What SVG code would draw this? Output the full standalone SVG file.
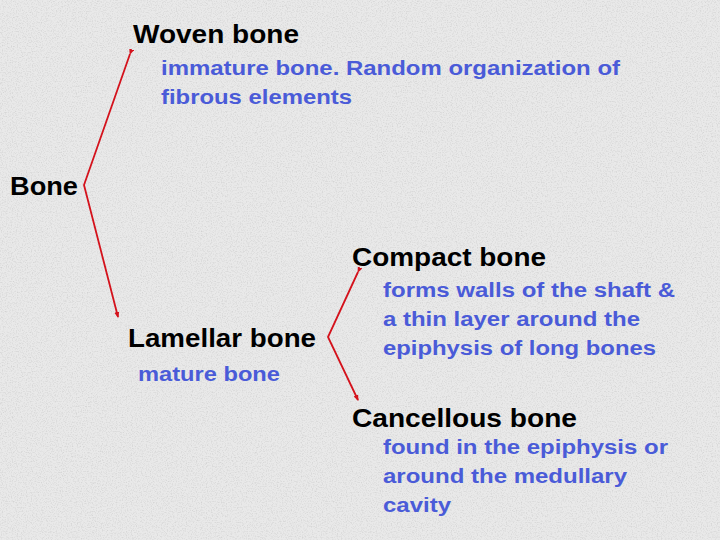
<svg xmlns="http://www.w3.org/2000/svg" width="720" height="540" viewBox="0 0 720 540">
<defs>
<style>
.t{font-family:"Liberation Sans",Arial,sans-serif;font-size:25px;font-weight:bold;fill:#000;}
.d{font-family:"Liberation Sans",Arial,sans-serif;font-size:20px;font-weight:bold;fill:#4a5bd8;}
.c{fill:none;stroke:#d4121c;stroke-width:1.8;}
</style>
<filter id="grain" x="0" y="0" width="100%" height="100%">
<feTurbulence type="fractalNoise" baseFrequency="0.8" numOctaves="2" seed="3" result="n"/>
<feColorMatrix type="matrix" values="0 0 0 0 0.45  0 0 0 0 0.45  0 0 0 0 0.45  0 0 0 -2 1.1"/>
</filter>
<marker id="ah" markerWidth="6" markerHeight="6" refX="5" refY="3" orient="auto" markerUnits="userSpaceOnUse">
<path d="M0,0.5 L6,3 L0,5.5 Z" fill="#d4121c"/>
</marker>
</defs>
<rect width="720" height="540" fill="#e9e9e9"/>
<rect width="720" height="540" filter="url(#grain)" opacity="0.45"/>
<g id="connectors">
<path class="c" d="M130,54 L84,185 L118,317" marker-start="url(#ah)" marker-end="url(#ah)"/>
<path class="c" d="M358,272 L328,337 L358,400" marker-start="url(#ah)" marker-end="url(#ah)"/>
</g>
<g id="node-bone"><text class="t" x="10" y="195" textLength="68" lengthAdjust="spacingAndGlyphs">Bone</text></g>
<g id="node-woven">
<text class="t" x="133" y="43" textLength="166" lengthAdjust="spacingAndGlyphs">Woven bone</text>
<text class="d" x="161" y="75" textLength="459" lengthAdjust="spacingAndGlyphs">immature bone. Random organization of</text>
<text class="d" x="161" y="104" textLength="191" lengthAdjust="spacingAndGlyphs">fibrous elements</text>
</g>
<g id="node-lamellar">
<text class="t" x="128" y="347" textLength="188" lengthAdjust="spacingAndGlyphs">Lamellar bone</text>
<text class="d" x="138" y="381" textLength="142" lengthAdjust="spacingAndGlyphs">mature bone</text>
</g>
<g id="node-compact">
<text class="t" x="352" y="266" textLength="194" lengthAdjust="spacingAndGlyphs">Compact bone</text>
<text class="d" x="383" y="297" textLength="292" lengthAdjust="spacingAndGlyphs">forms walls of the shaft &amp;</text>
<text class="d" x="383" y="326" textLength="257" lengthAdjust="spacingAndGlyphs">a thin layer around the</text>
<text class="d" x="383" y="355" textLength="273" lengthAdjust="spacingAndGlyphs">epiphysis of long bones</text>
</g>
<g id="node-cancellous">
<text class="t" x="352" y="427" textLength="225" lengthAdjust="spacingAndGlyphs">Cancellous bone</text>
<text class="d" x="383" y="454" textLength="285" lengthAdjust="spacingAndGlyphs">found in the epiphysis or</text>
<text class="d" x="383" y="483" textLength="244" lengthAdjust="spacingAndGlyphs">around the medullary</text>
<text class="d" x="383" y="512" textLength="68" lengthAdjust="spacingAndGlyphs">cavity</text>
</g>
</svg>
